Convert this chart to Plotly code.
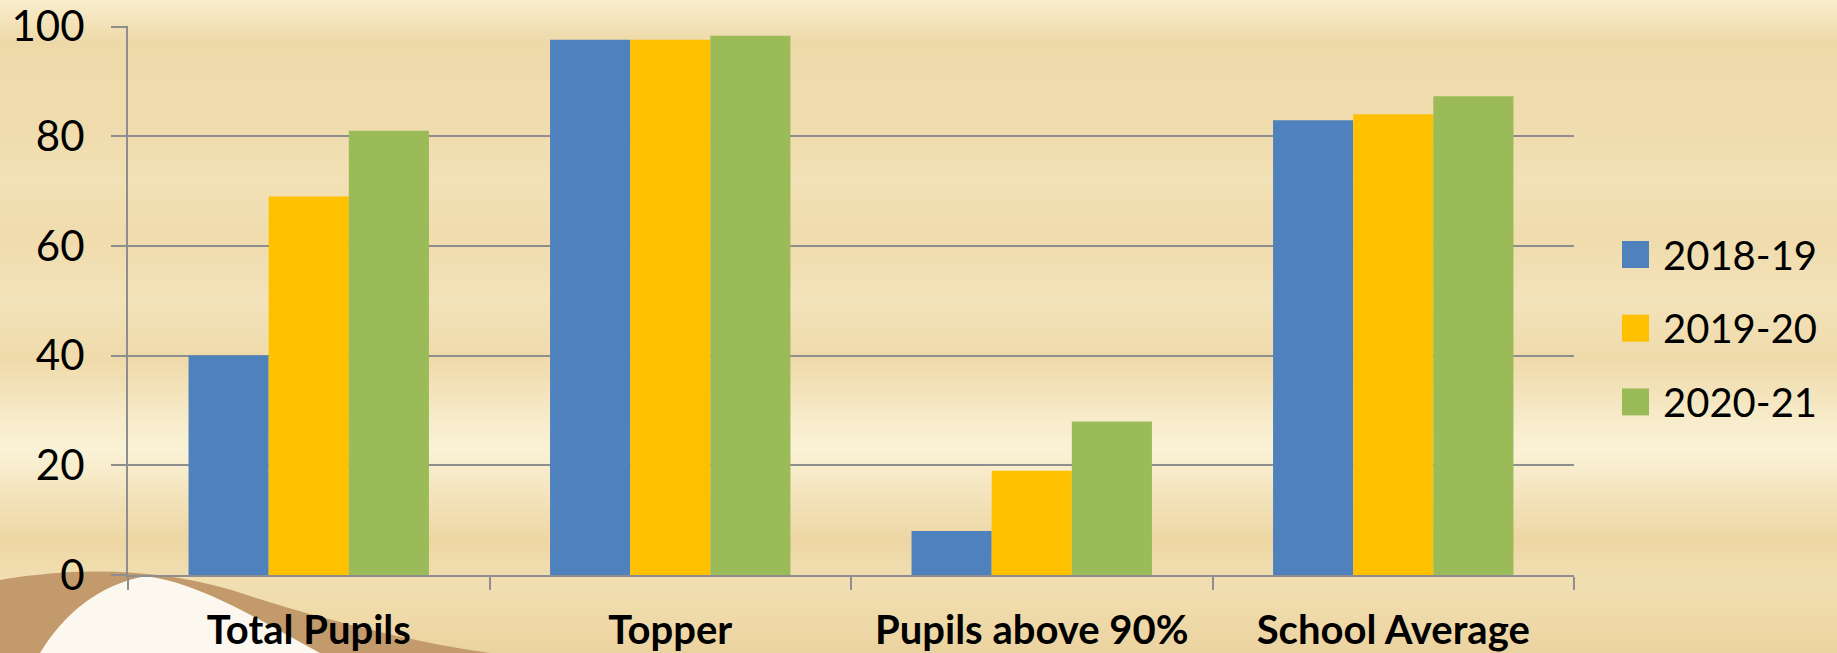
import base64
import struct
import zlib

import plotly.graph_objects as go

# ---------------- data ----------------
categories = ["Total Pupils", "Topper", "Pupils above 90%", "School Average"]
series_names = ["2018-19", "2019-20", "2020-21"]
values_2018_19 = [40, 97.6, 8, 82.9]
values_2019_20 = [69, 97.6, 19, 84.0]
values_2020_21 = [81, 98.3, 28, 87.3]
series_values = [values_2018_19, values_2019_20, values_2020_21]
series_colors = ["#4F81BD", "#FFC000", "#9BBB59"]
y_ticks = [0, 20, 40, 60, 80, 100]

# ---------------- geometry ----------------
W, H = 1837, 653
ML, MR, MT, MB = 128, 263, 26, 78
PW, PH = W - ML - MR, H - MT - MB


def px_x(x):
    return (x - ML) / PW


def px_y(y):
    return (H - MB - y) / PH


# ---------------- background gradient (PNG generated in memory) ----------------
stops = [
    (0, "F8ECCB"), (15, "F5E6C0"), (40, "EEDAA9"), (120, "EFDBAC"),
    (180, "F2E1B6"), (240, "F0DCAD"), (300, "F3E3BA"), (360, "EFDAAA"),
    (420, "F7ECCB"), (450, "FAF2D6"), (490, "F4E5BF"), (540, "EDD6A3"),
    (580, "F1DFB2"), (620, "EFD9A8"), (653, "EBD3A0"),
]


def hex2rgb(h):
    return tuple(int(h[i:i + 2], 16) for i in (0, 2, 4))


def color_at(y):
    for (y0, c0), (y1, c1) in zip(stops[:-1], stops[1:]):
        if y0 <= y <= y1:
            t = (y - y0) / (y1 - y0) if y1 > y0 else 0
            a, b = hex2rgb(c0), hex2rgb(c1)
            return tuple(int(round(a[i] + (b[i] - a[i]) * t)) for i in range(3))
    return hex2rgb(stops[-1][1])


def make_png(w, h):
    raw = b""
    for y in range(h):
        r, g, b = color_at(y)
        raw += b"\x00" + bytes([r, g, b]) * w

    def chunk(tag, data):
        c = struct.pack(">I", len(data)) + tag + data
        return c + struct.pack(">I", zlib.crc32(tag + data) & 0xFFFFFFFF)

    png = b"\x89PNG\r\n\x1a\n"
    png += chunk(b"IHDR", struct.pack(">IIBBBBB", w, h, 8, 2, 0, 0, 0))
    png += chunk(b"IDAT", zlib.compress(raw, 9))
    png += chunk(b"IEND", b"")
    return "data:image/png;base64," + base64.b64encode(png).decode()


bg_src = make_png(4, H)

# ---------------- figure ----------------
fig = go.Figure()
for name, vals, col in zip(series_names, series_values, series_colors):
    fig.add_trace(go.Bar(
        x=categories, y=vals, name=name,
        marker=dict(color=col, line=dict(width=0)),
        showlegend=False,
    ))

GRID = "#8E8E8E"
FONT = "Lato, 'Open Sans', sans-serif"

fig.update_layout(
    template="none",
    width=W, height=H,
    autosize=False,
    margin=dict(l=ML, r=MR, t=MT, b=MB, pad=0),
    paper_bgcolor="#F1DEB0",
    plot_bgcolor="rgba(0,0,0,0)",
    barmode="group",
    bargap=0.335,
    bargroupgap=0,
    showlegend=False,
    font=dict(family=FONT, color="black"),
    xaxis=dict(
        type="category",
        automargin=False,
        tickson="boundaries",
        ticks="outside", ticklen=13, tickwidth=2, tickcolor=GRID,
        showline=True, linecolor=GRID, linewidth=2,
        showgrid=False, zeroline=False,
        tickfont=dict(family=FONT, size=40, color="black", weight="bold"),
        ticklabelstandoff=19,
    ),
    yaxis=dict(
        automargin=False,
        range=[0, 100.1],
        tickvals=y_ticks,
        ticks="outside", ticklen=15, tickwidth=2, tickcolor=GRID,
        showline=True, linecolor=GRID, linewidth=2,
        showgrid=True, gridcolor=GRID, gridwidth=2,
        zeroline=False,
        tickfont=dict(family=FONT, size=42, color="black"),
        ticklabelstandoff=18,
    ),
)

# background image
fig.add_layout_image(dict(
    source=bg_src, xref="paper", yref="paper",
    x=px_x(0), y=px_y(0), sizex=W / PW, sizey=H / PH,
    xanchor="left", yanchor="top", sizing="stretch", layer="below",
))


# decorative swoosh at bottom-left (paper coords from pixels)
def path_px(cmds):
    out = []
    for c in cmds:
        if isinstance(c, str):
            out.append(c)
        else:
            out.append(f"{px_x(c[0]):.5f},{px_y(c[1]):.5f}")
    return " ".join(out)


brown = path_px(["M", (0, 580), "C", (80, 566), (170, 568), (250, 596),
                 "C", (340, 625), (430, 645), (490, 653), "L", (0, 653), "Z"])
white = path_px(["M", (40, 653), "C", (65, 612), (100, 585), (145, 576),
                 "C", (200, 583), (260, 620), (320, 653), "Z"])
fig.add_shape(type="path", path=brown, xref="paper", yref="paper",
              fillcolor="#C39A6B", line=dict(width=0), layer="below")
fig.add_shape(type="path", path=white, xref="paper", yref="paper",
              fillcolor="#FCF8EF", line=dict(width=0), layer="below")

# manual legend with large square swatches
leg_x0, sw = 1622, 27
leg_y_center0, leg_step = 254.5, 73.7
for i, (name, col) in enumerate(zip(series_names, series_colors)):
    cy = leg_y_center0 + i * leg_step
    fig.add_shape(type="rect", xref="paper", yref="paper",
                  x0=px_x(leg_x0), x1=px_x(leg_x0 + sw),
                  y0=px_y(cy + sw / 2), y1=px_y(cy - sw / 2),
                  fillcolor=col, line=dict(width=0))
    fig.add_annotation(text=name, xref="paper", yref="paper",
                       x=px_x(leg_x0 + sw + 12), y=px_y(cy),
                       xanchor="left", yanchor="middle", showarrow=False,
                       font=dict(family=FONT, size=40, color="black"))

fig.write_html(
    "out.html",
    config={"displayModeBar": False},
    post_script="document.body.style.margin='0';document.body.style.overflow='hidden';",
)
